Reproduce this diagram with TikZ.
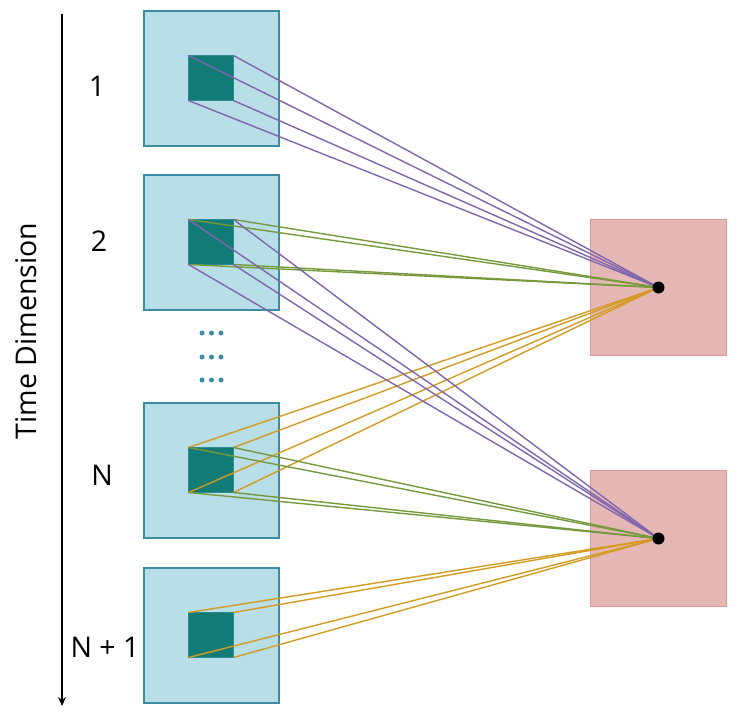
\documentclass[tikz,border=0pt]{standalone}
\usepackage{fontspec}
\setmainfont{Open Sans}
\usetikzlibrary{arrows.meta}
\definecolor{boxfill}{HTML}{B8DEE7}
\definecolor{boxline}{HTML}{3C8CA3}
\definecolor{sqfill}{HTML}{127B76}
\definecolor{sqline}{HTML}{2C8A90}
\definecolor{pinkfill}{HTML}{E5B8B6}
\definecolor{pinkline}{HTML}{DC9896}
\definecolor{purp}{HTML}{8066AC}
\definecolor{grn}{HTML}{77993D}
\definecolor{orng}{HTML}{D39B22}
\begin{document}
\begin{tikzpicture}[x=1pt,y=-1pt,
  bigbox/.style={draw=boxline, fill=boxfill, line width=2.2pt, minimum size=135pt, inner sep=0pt, outer sep=0pt},
  smallsq/.style={draw=sqline, fill=sqfill, line width=0.8pt, minimum size=45pt, inner sep=0pt, outer sep=0pt},
  pinkbox/.style={draw=pinkline, fill=pinkfill, line width=1.6pt, minimum size=136pt, inner sep=0pt, outer sep=0pt},
  blackdot/.style={circle, fill=black, minimum size=12pt, inner sep=0pt},
  lbl/.style={font=\fontsize{28.5}{32}\selectfont, inner sep=0pt},
  conn/.style={line width=1.4pt},
  tealdot/.style={circle, fill=boxline, minimum size=5pt, inner sep=0pt}
]
\useasboundingbox (0,0) rectangle (740,713);
% time axis
\coordinate (atop) at (62,14);
\coordinate (abot) at (62,706);
\draw[line width=1.2pt, -{Stealth[length=9pt,width=8pt]}] (atop) -- (abot);
\node[lbl, rotate=90] (tdim) at (26,331) {Time Dimension};
% left boxes
\node[bigbox] (b1) at (211.5,78.5) {};
\node[bigbox] (b2) at (211.5,242.5) {};
\node[bigbox] (b3) at (211.5,470.5) {};
\node[bigbox] (b4) at (211.5,635.5) {};
\node[smallsq] (s1) at (211,78) {};
\node[smallsq] (s2) at (211,242) {};
\node[smallsq] (s3) at (211,470) {};
\node[smallsq] (s4) at (211,635) {};
% labels
\node[lbl] (l1) at (97,86) {1};
\node[lbl] (l2) at (99,241) {2};
\node[lbl] (l3) at (102,475) {N};
\node[lbl] (l4) at (105,647) {N + 1};
% ellipsis dots
\foreach \yy [count=\i] in {333,357,380}{
  \node[tealdot] (da\i) at (202,\yy) {};
  \node[tealdot] (db\i) at (211.5,\yy) {};
  \node[tealdot] (dc\i) at (221,\yy) {};
}
% right boxes
\node[pinkbox] (p1) at (658.5,287.5) {};
\node[pinkbox] (p2) at (658.5,538.5) {};
% connectors
\foreach \s/\d/\c in {s1/p1/purp, s2/p1/grn, s3/p1/orng, s2/p2/purp, s3/p2/grn, s4/p2/orng}{
  \foreach \a in {north west, north east, south west, south east}{
    \draw[conn, \c] (\s.\a) -- (\d.center);
  }
}
\node[blackdot] (d1) at (p1.center) {};
\node[blackdot] (d2) at (p2.center) {};
\end{tikzpicture}
\end{document}
